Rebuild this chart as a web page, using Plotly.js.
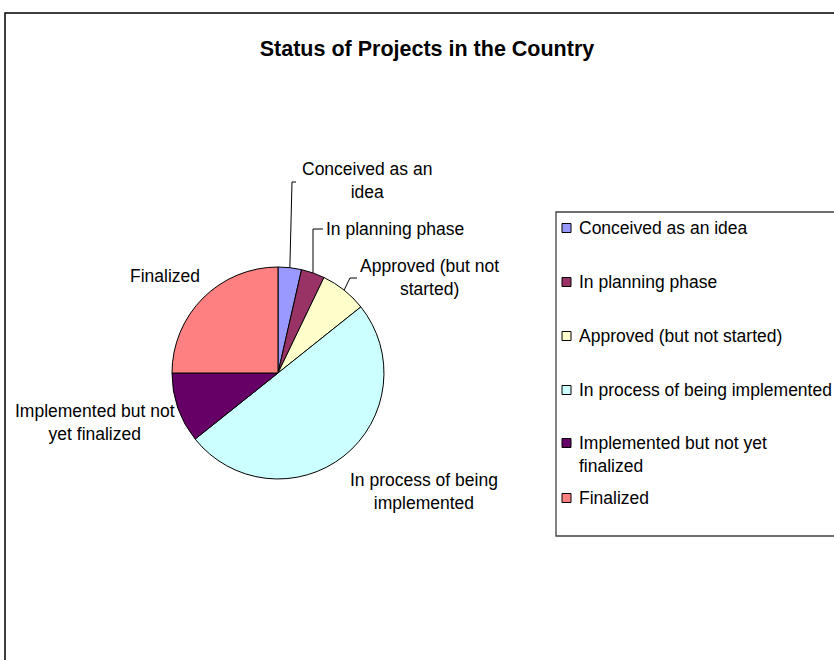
<!DOCTYPE html>
<html>
<head>
<meta charset="utf-8">
<script src="https://cdn.plot.ly/plotly-3.0.1.min.js"></script>
<style>
html,body{margin:0;padding:0;background:#fff;}
#chart{width:834px;height:660px;}
</style>
</head>
<body>
<div id="chart"></div>
<script>
// ---- data ----
var categories = ["Conceived as an idea", "In planning phase", "Approved (but not started)",
  "In process of being implemented", "Implemented but not yet finalized", "Finalized"];
var values = [1, 1, 2, 14, 3, 7];
var colors = ["#9999FF", "#993366", "#FFFFCC", "#CCFFFF", "#660066", "#FF8080"];
var pieLabels = ["Conceived as an<br>idea", "In planning phase", "Approved (but not<br>started)",
  "In process of being<br>implemented", "Implemented but not<br>yet finalized", "Finalized"];
var legendLabels = ["Conceived as an idea", "In planning phase", "Approved (but not started)",
  "In process of being implemented", "Implemented but not yet<br>finalized", "Finalized"];

// ---- layout (pixels) ----
var W = 834, H = 660;
var cx = 278, cy = 373, R = 106;
function px(x){ return x / W; }
function py(y){ return 1 - y / H; }

// label centres
var labelX = [367, 395, 429, 424, 95, 165];
var labelY = [181, 229, 278, 491, 422, 276];
// leader lines: elbow point and end x (null = no leader)
var elbowX = [292, 313, 350, null, null, null];
var elbowY = [182, 229, 278, null, null, null];
var endX   = [296, 323, 357, null, null, null];

var total = values.reduce(function(a,b){return a+b;}, 0);
var shapes = [];
var annotations = [];

// outer chart border (open to the right/bottom like the reference)
shapes.push({type:'rect', xref:'paper', yref:'paper', x0:px(5), x1:px(900), y0:py(800), y1:py(13),
  line:{color:'#000', width:1.5}, fillcolor:'rgba(0,0,0,0)', layer:'below'});

var cum = 0;
for (var i = 0; i < values.length; i++) {
  var mid = (cum + values[i] / 2) / total * 2 * Math.PI;
  cum += values[i];
  var sx = cx + R * Math.sin(mid), sy = cy - R * Math.cos(mid);
  if (elbowX[i] !== null) {
    shapes.push({type:'path', xref:'paper', yref:'paper',
      path: 'M' + px(sx) + ',' + py(sy) + ' L' + px(elbowX[i]) + ',' + py(elbowY[i]) + ' L' + px(endX[i]) + ',' + py(elbowY[i]),
      line:{color:'#000', width:1}});
  }
  annotations.push({xref:'paper', yref:'paper', x:px(labelX[i]), y:py(labelY[i]),
    text: pieLabels[i], showarrow:false, xanchor:'center', yanchor:'middle', align:'center',
    font:{family:'Liberation Sans, Arial, sans-serif', size:17.5, color:'#000'}});
}

// custom legend
var legTop = 212, legBottom = 536, legLeft = 556;
shapes.push({type:'rect', xref:'paper', yref:'paper', x0:px(legLeft), x1:px(900), y0:py(legBottom), y1:py(legTop),
  line:{color:'#404040', width:1.3}, fillcolor:'rgba(0,0,0,0)'});
var legY = [228, 282, 336, 390, 443, 498];
for (var j = 0; j < categories.length; j++) {
  shapes.push({type:'rect', xref:'paper', yref:'paper',
    x0:px(562), x1:px(571), y0:py(legY[j] + 4.5), y1:py(legY[j] - 4.5),
    fillcolor: colors[j], line:{color:'#000', width:1}});
  var multi = legendLabels[j].indexOf('<br>') >= 0;
  annotations.push({xref:'paper', yref:'paper', x:px(577), y:py(legY[j] - 12),
    text: legendLabels[j], showarrow:false, xanchor:'left', yanchor:'top', align:'left',
    font:{family:'Liberation Sans, Arial, sans-serif', size:17.5, color:'#000'}});
}

var trace = {
  type:'pie', values: values, labels: categories, sort:false, direction:'clockwise', rotation:0,
  marker:{colors: colors, line:{color:'#000', width:1}},
  textinfo:'none', hoverinfo:'label+value+percent', showlegend:false,
  domain:{x:[px(cx - R), px(cx + R)], y:[py(cy + R), py(cy - R)]}
};

var layout = {
  width: W, height: H,
  margin:{l:0, r:0, t:0, b:0},
  paper_bgcolor:'#fff', plot_bgcolor:'#fff',
  showlegend:false,
  title:{text:'<b>Status of Projects in the Country</b>', x:px(427), xanchor:'center', xref:'paper',
    y:py(48), yanchor:'middle', yref:'paper',
    font:{family:'Liberation Sans, Arial, sans-serif', size:21.5, color:'#000'}},
  shapes: shapes, annotations: annotations
};

Plotly.newPlot('chart', [trace], layout, {displayModeBar:false, staticPlot:true});
</script>
</body>
</html>
